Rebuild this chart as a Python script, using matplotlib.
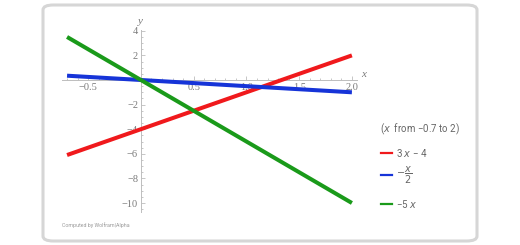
import numpy as np
import matplotlib.pyplot as plt
from matplotlib.patches import FancyBboxPatch
from matplotlib.ticker import MultipleLocator

# x range and the three functions
x_range = [-0.7, 2.0]
labels = ['3 $x$ − 4', r'$-\dfrac{x}{2}$', '−5 $x$']
slopes = [3, -0.5, -5]
intercepts = [-4, 0, 0]
colors = ['#f0191c', '#1634d8', '#1a9a1a']

W, H = 520, 245
fig = plt.figure(figsize=(W / 100, H / 100), dpi=100)

# rounded frame
frame = FancyBboxPatch((43 / W, 4 / H), 434 / W, 236 / H,
                       boxstyle='round,pad=0,rounding_size=0.02',
                       transform=fig.transFigure, facecolor='white',
                       edgecolor='#d6d6d6', linewidth=2.2, zorder=-5)
fig.patches.append(frame)

# axes placed in pixels
x0, xs = 140.9, 105.5   # pixel of x=0, px per unit
y0, ys = 80.0, 12.3     # pixel of y=0, px per unit
xlim = (-0.75, 2.05)
ylim = (-10.7, 4.1)
left = x0 + xlim[0] * xs
width = (xlim[1] - xlim[0]) * xs
top = y0 - ylim[1] * ys
height = (ylim[1] - ylim[0]) * ys
ax = fig.add_axes([left / W, (H - top - height) / H, width / W, height / H])
ax.set_xlim(xlim)
ax.set_ylim(ylim)
ax.patch.set_alpha(0)

for sp in ['top', 'right']:
    ax.spines[sp].set_visible(False)
ax.spines['left'].set_position(('data', 0))
ax.spines['bottom'].set_position(('data', 0))
for sp in ['left', 'bottom']:
    ax.spines[sp].set_color('#bdbdbd')
    ax.spines[sp].set_linewidth(0.7)

ax.xaxis.set_major_locator(MultipleLocator(0.5))
ax.xaxis.set_minor_locator(MultipleLocator(0.1))
ax.yaxis.set_major_locator(MultipleLocator(2))
ax.yaxis.set_minor_locator(MultipleLocator(0.5))
ax.set_xticks([-0.5, 0.5, 1.0, 1.5, 2.0])
ax.set_xticklabels(['−0.5', '0.5', '1.0', '1.5', '2.0'])
ax.set_yticks([4, 2, -2, -4, -6, -8, -10])
ax.set_yticklabels(['4', '2', '−2', '−4', '−6', '−8', '−10'])
ax.tick_params(which='both', direction='in', color='#bdbdbd', width=0.6,
               labelsize=7.5, labelcolor='#7a7a7a', pad=2)
ax.tick_params(which='major', length=3)
ax.tick_params(which='minor', length=1.6)
for t in ax.get_xticklabels() + ax.get_yticklabels():
    t.set_family('Liberation Serif')

ax.text(2.09, 0.05, 'x', family='Liberation Serif', style='italic',
        fontsize=8, color='#7a7a7a', va='bottom', ha='left')
ax.text(0.0, 4.35, 'y', family='Liberation Serif', style='italic',
        fontsize=8, color='#7a7a7a', va='bottom', ha='center')

xx = np.array(x_range)
for m, b, c in zip(slopes, intercepts, colors):
    ax.plot(xx, m * xx + b, color=c, linewidth=2.9, solid_capstyle='butt',
            zorder=3, clip_on=False)

# legend drawn by hand
fig.text(380 / W, 1 - 129 / H, '($x$  from −0.7 to 2)', fontsize=7,
         color='#666666', family='Roboto', va='center')
leg_y = [153, 175, 204]
for lab, c, ly in zip(labels, colors, leg_y):
    fig.add_artist(plt.Line2D([381 / W, 392 / W], [1 - ly / H, 1 - ly / H],
                              color=c, linewidth=1.6))
    fig.text(396 / W, 1 - ly / H, lab, fontsize=7,
             color='#666666', family='Roboto', va='center')

fig.text(62 / W, 1 - 225 / H, 'Computed by Wolfram|Alpha', fontsize=3.8,
         color='#9a9a9a', family='Roboto', va='center')

fig.savefig('out.png', dpi=100)
